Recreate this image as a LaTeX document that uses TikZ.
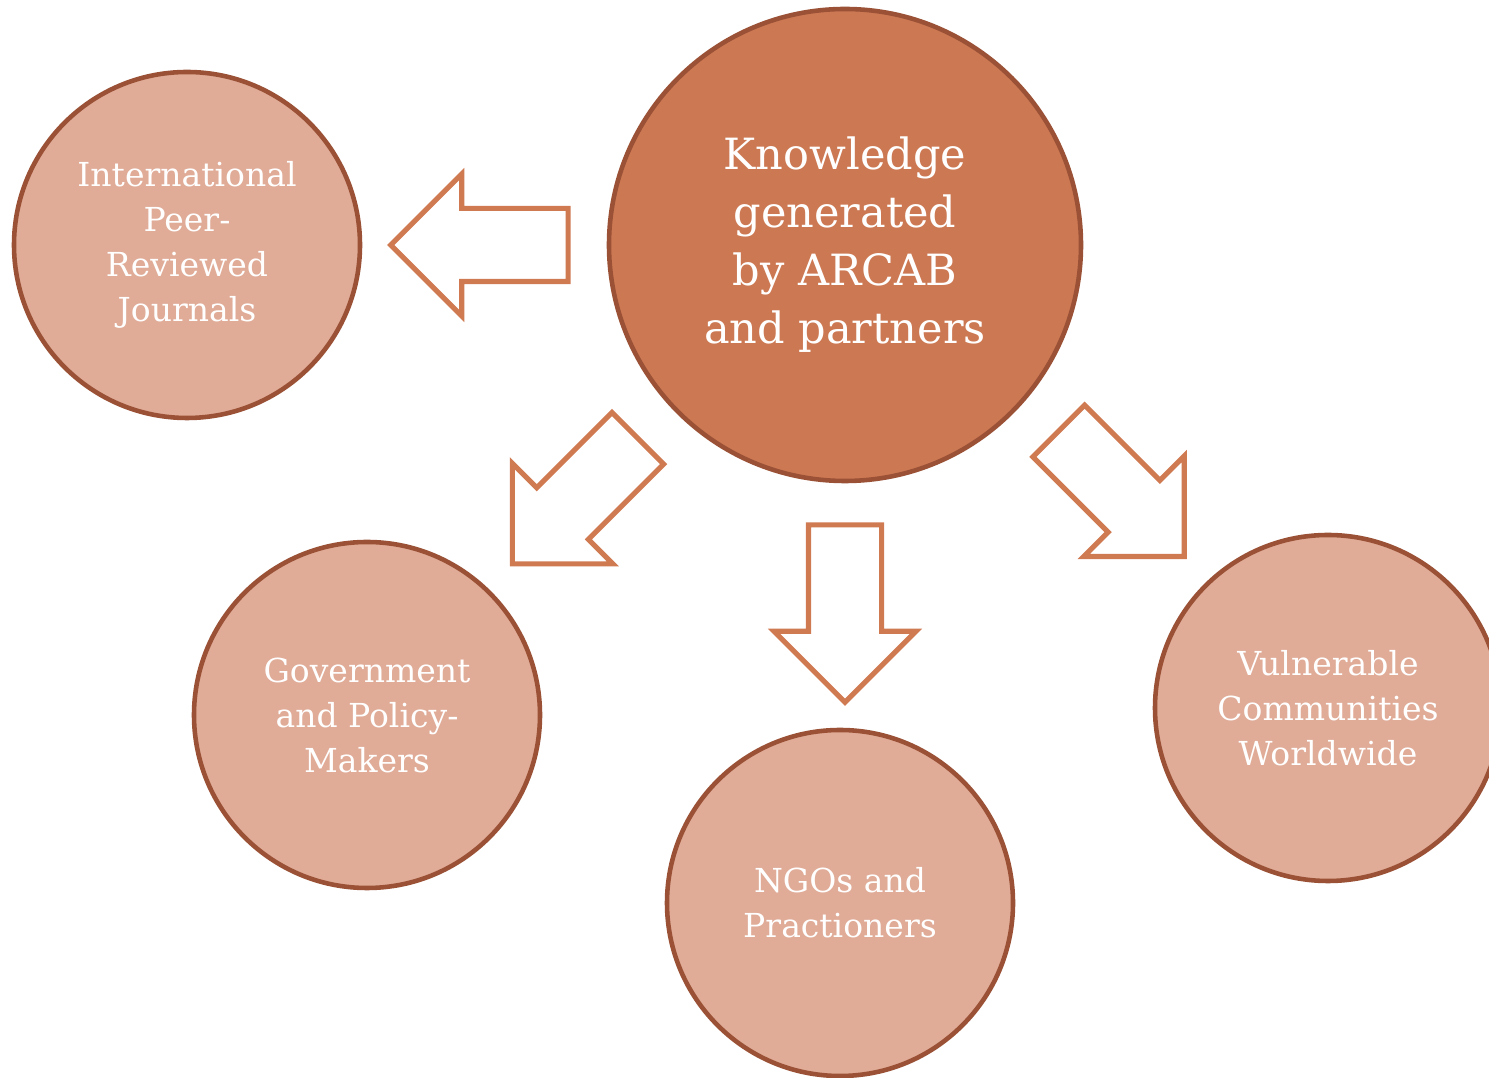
\documentclass[tikz,border=0pt]{standalone}
\usepackage{fontspec}
\setmainfont{DejaVu Serif}
\usetikzlibrary{shapes.arrows,calc}
\definecolor{rust}{HTML}{CC7852}
\definecolor{rustedge}{HTML}{9A5136}
\definecolor{peach}{HTML}{E0AB97}
\definecolor{arrowline}{HTML}{D07A52}

\begin{document}
\begin{tikzpicture}[
    hub/.style={
      circle, draw=rustedge, line width=2.6pt, fill=rust,
      text=white, minimum size=9.44cm, inner sep=0pt, align=center,
      font=\fontsize{24.5}{33}\selectfont,
    },
    target/.style={
      circle, draw=rustedge, line width=2.6pt, fill=peach,
      text=white, minimum size=6.92cm, inner sep=0pt, align=center,
      font=\fontsize{18.8}{25.6}\selectfont,
    },
    blockarr/.style={
      single arrow, draw=arrowline, line width=2.9pt, fill=white,
      minimum height=3.55cm, inner xsep=0pt, inner ysep=0.68cm,
      single arrow head extend=0.69cm, rotate=#1, anchor=tail,
    },
  ]
  \useasboundingbox (0, 0) rectangle (29.78, 21.56);

  % Centre: where the knowledge comes from
  \node[hub] (hub) at (16.90, 16.66) {Knowledge\\generated\\by ARCAB\\and partners};

  % Audiences
  \node[target] (journals) at (3.74, 16.66) {International\\Peer-\\Reviewed\\Journals};
  \node[target] (gov) at (7.34, 7.26) {Government\\and Policy-\\Makers};
  \node[target] (ngo) at (16.80, 3.50) {NGOs and\\Practioners};
  \node[target] (vuln) at (26.56, 7.40) {Vulnerable\\Communities\\Worldwide};

  % Block arrows, tails just off the hub
  \node[blockarr=180] (toJournals) at ($(hub.180)+(180:0.72)$) {};
  \node[blockarr=225] (toGov) at ($(hub.223)+(223:0.85)$) {};
  \node[blockarr=270] (toNgo) at ($(hub.270)+(270:0.78)$) {};
  \node[blockarr=-45] (toVuln) at ($(hub.-41)+(-41:0.85)$) {};

\end{tikzpicture}
\end{document}
